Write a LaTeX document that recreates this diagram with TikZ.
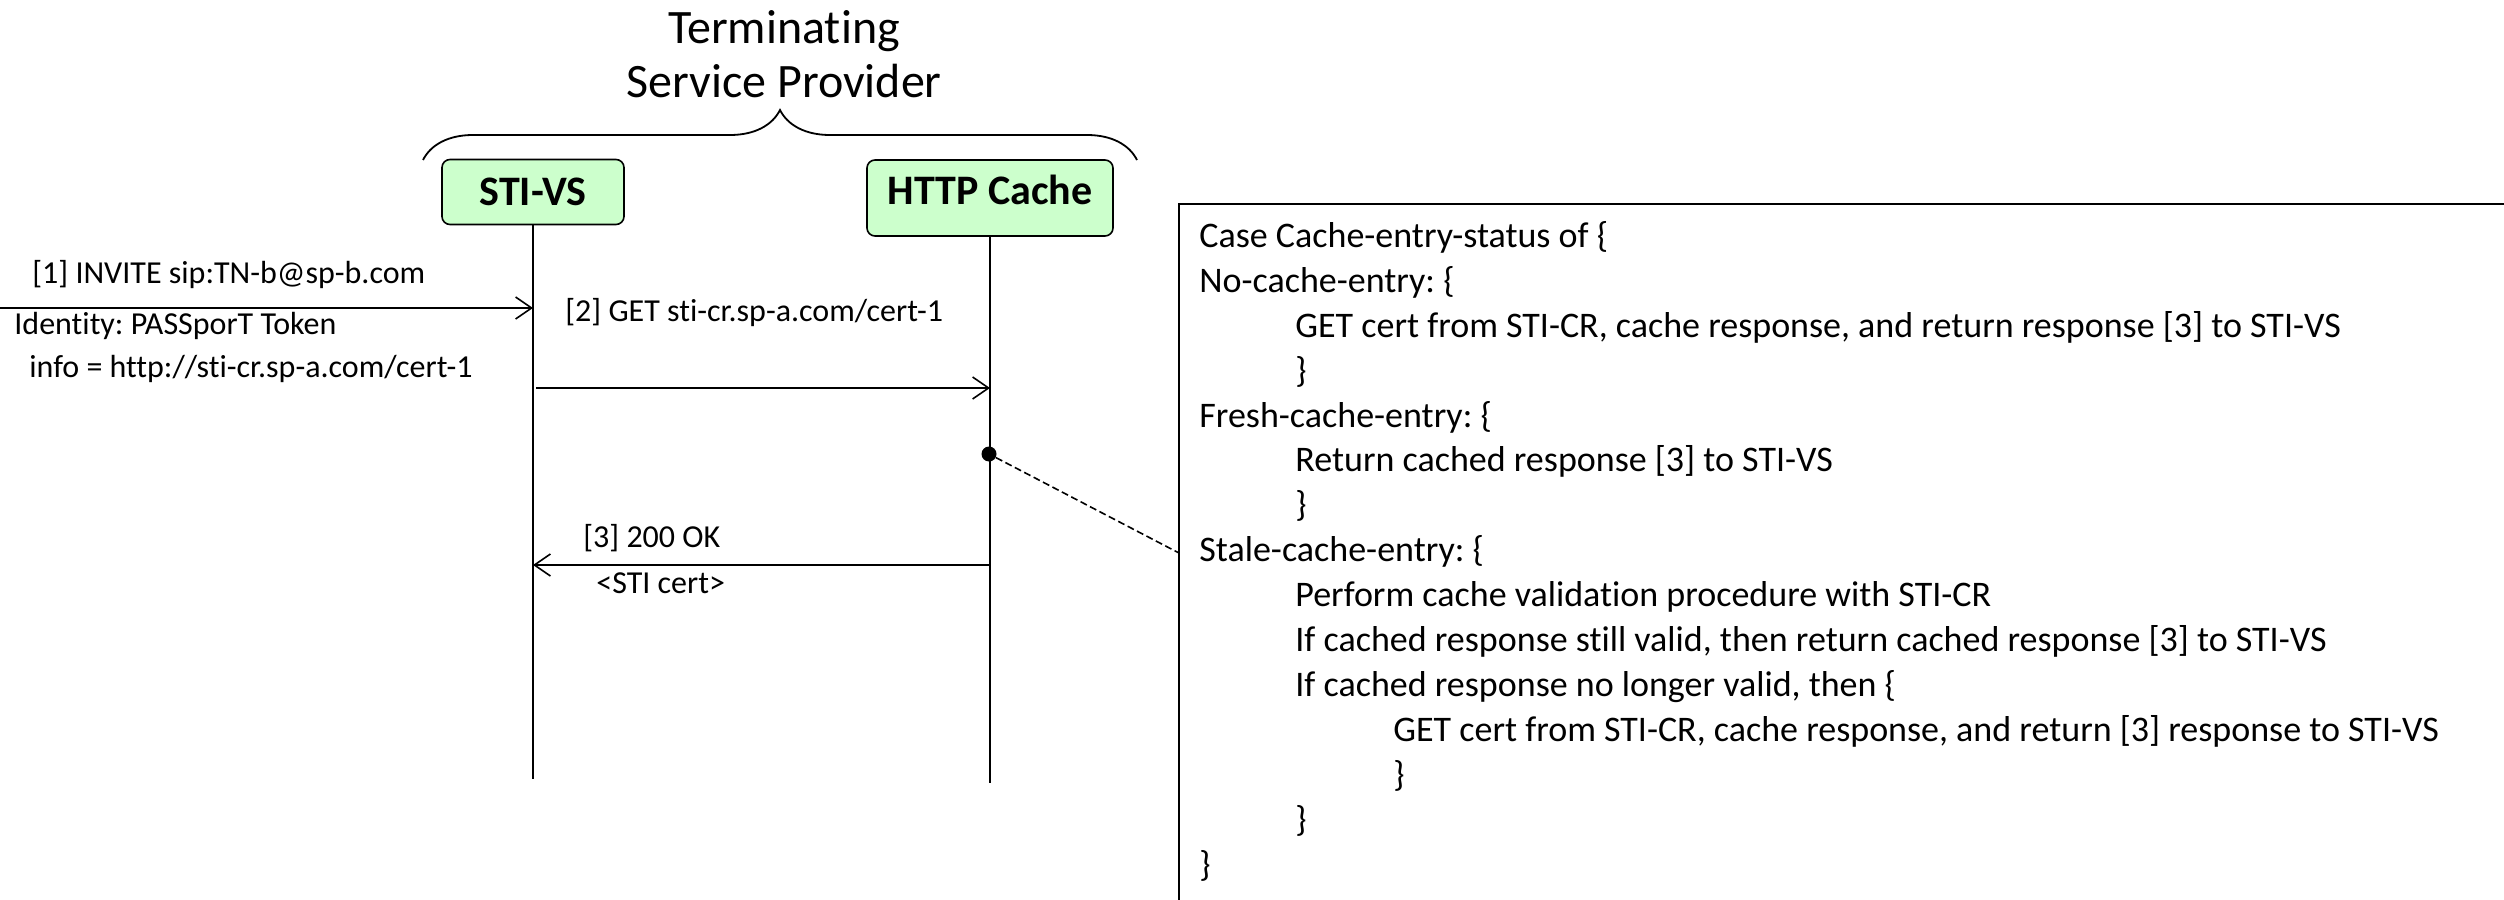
\documentclass[tikz,border=0pt]{standalone}
\usepackage{fontspec}
\setmainfont[Ligatures=NoCommon]{Carlito}
\frenchspacing
\usetikzlibrary{arrows.meta,decorations.pathreplacing}

\begin{document}
\begin{tikzpicture}[x=0.5pt,y=-0.5pt,
	entity/.style={draw,line width=0.8pt,rounded corners=4pt,fill=green!20,inner sep=0pt,font=\fontsize{21}{25}\selectfont\bfseries},
	msg/.style={-{Straight Barb[length=8pt,width=11pt]},line width=0.8pt},
	life/.style={line width=0.9pt},
	lbl/.style={anchor=west,inner sep=0pt,font=\fontsize{16}{19}\selectfont}]
	\clip (0,0) rectangle (2504,899);
	
	\node[align=center,font=\fontsize{24}{27}\selectfont] (tsp) at (784,54) {Terminating\\Service Provider};
	\draw [line width=0.9pt,decorate,decoration={brace,amplitude=25pt}] (423,160) -- (1137,160);
	
	\node[entity,minimum width=91pt,minimum height=32.5pt] (vs) at (533,192) {STI-VS};
	\node[entity,minimum width=123pt,minimum height=38pt,text depth=8pt] (hc) at (990,198) {HTTP Cache};
	
	\coordinate (vsEnd) at (533,779);
	\coordinate (hcEnd) at (990,783);
	\draw [life] (vs) -- (vsEnd);
	\draw [life] (hc) -- (hcEnd);
	
	\coordinate (ua) at (0,308);
	\coordinate (vs1) at (533,308);
	\coordinate (vs2) at (536,388);
	\coordinate (hc2) at (990,388);
	\coordinate (hc3) at (990,565);
	\coordinate (vs3) at (533,565);
	
	\draw [msg] (ua) -- (vs1);
	\draw [msg] (vs2) -- (hc2);
	\draw [msg] (hc3) -- (vs3);
	
	\node[lbl] (l1) at (32,275) {[1] INVITE sip:TN-b@sp-b.com};
	\node[lbl] (l1a) at (14,326) {Identity: PASSporT Token};
	\node[lbl] (l1b) at (29,369) {info = http://sti-cr.sp-a.com/cert-1};
	\node[lbl] (l2) at (565,313) {[2] GET sti-cr.sp-a.com/cert-1};
	\node[lbl] (l3) at (583,538) {[3] 200 OK};
	\node[lbl] (l3a) at (596,583) {<STI cert>};
	
	\draw [line width=0.8pt] (1179,204) rectangle (2700,1000);
	\node[anchor=north west,align=left,inner sep=0pt,font=\fontsize{18}{22.45}\selectfont] (cases) at (1199,221) {Case Cache-entry-status of \{\\
	No-cache-entry: \{\\
	\hspace*{48pt}GET cert from STI-CR, cache response, and return response [3] to STI-VS\\
	\hspace*{48pt}\}\\
	Fresh-cache-entry: \{\\
	\hspace*{48pt}Return cached response [3] to STI-VS\\
	\hspace*{48pt}\}\\
	Stale-cache-entry: \{\\
	\hspace*{48pt}Perform cache validation procedure with STI-CR\\
	\hspace*{48pt}If cached response still valid, then return cached response [3] to STI-VS\\
	\hspace*{48pt}If cached response no longer valid, then \{\\
	\hspace*{97pt}GET cert from STI-CR, cache response, and return [3] response to STI-VS\\
	\hspace*{97pt}\}\\
	\hspace*{48pt}\}\\
	\}};
	
	\node[circle,fill,inner sep=0pt,minimum size=7.5pt] (dot) at (989,454) {};
	\coordinate (boxL) at (1179,553);
	\draw [line width=0.8pt,dash pattern=on 3.5pt off 1.8pt] (dot) -- (boxL);
\end{tikzpicture}
\end{document}
